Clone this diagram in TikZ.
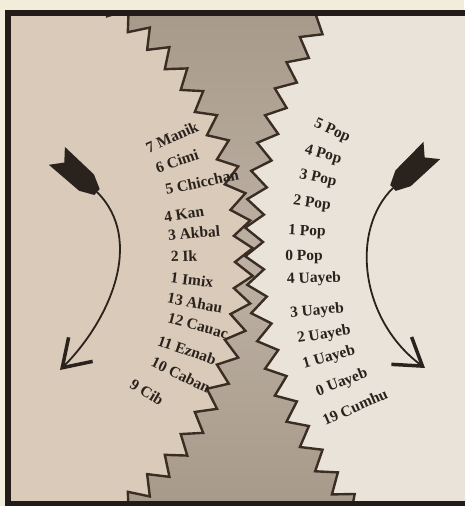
\documentclass[tikz,border=0pt]{standalone}
\usepackage{fontspec}
\setmainfont{Liberation Serif}
\usetikzlibrary{arrows.meta}
\definecolor{outerc}{HTML}{F1EDDA}
\definecolor{framec}{HTML}{221C18}
\definecolor{leftc}{HTML}{D9CAB9}
\definecolor{rightc}{HTML}{EAE3DA}
\definecolor{bandc}{HTML}{A79A8A}
\definecolor{bandlc}{HTML}{BDB1A4}
\definecolor{edgec}{HTML}{3A2D24}
\definecolor{inkc}{HTML}{2A221D}
\tikzset{
  lbl/.style={font=\fontsize{15.5}{15.5}\selectfont\bfseries,text=inkc,inner sep=0pt},
  gear/.style={draw=edgec,line width=2.4pt,line join=miter},
  shaft/.style={draw=inkc,line width=1.8pt,-{Straight Barb[length=26pt,width=34pt,line width=3.5pt]}},
  feather/.style={fill=inkc}
}
\begin{document}
\begin{tikzpicture}[x=1pt,y=-1pt]
\useasboundingbox (0,0) rectangle (464,506);
\fill[outerc] (0,0) rectangle (464,506);
% the two meshing wheels
\begin{scope}
\clip (8,13) rectangle (470,504);
\shade[top color=bandc,bottom color=bandc,middle color=bandlc] (8,13) rectangle (470,504);
\path[gear,fill=leftc] (-30,-40) -- ([shift={(-65,262)}]-60:300)
  \foreach \k in {0,...,23} { -- ([shift={(-65,262)}]{-57.5+5*\k}:318) -- ([shift={(-65,262)}]{-55+5*\k}:300) }
  -- (-30,560) -- cycle;
\path[gear,fill=rightc] (500,600) -- ([shift={(655,242)}]136:392)
  \foreach \k in {0,...,20} { -- ([shift={(655,242)}]{138+4*\k}:410) -- ([shift={(655,242)}]{140+4*\k}:392) }
  -- (500,-40) -- cycle;
\end{scope}
\draw[framec,line width=6pt] (8,13) rectangle (470,504);
% arrows
\coordinate (ltail) at (97,192);
\coordinate (lhead) at (60,370);
\coordinate (rtail) at (393,188);
\coordinate (rhead) at (425,368);
\draw[shaft] (ltail) .. controls (145,240) and (110,320) .. (lhead);
\draw[shaft] (rtail) .. controls (350,230) and (360,320) .. (rhead);
\fill[feather,shift={(ltail)},rotate=138] (0,-4) -- (14,-11) -- (54,-12) -- (44,0) -- (54,12) -- (14,11) -- (0,4) -- cycle;
\fill[feather,shift={(rtail)},rotate=44] (0,-4) -- (14,-11) -- (54,-12) -- (44,0) -- (54,12) -- (14,11) -- (0,4) -- cycle;
% day names
\foreach \t/\x/\y/\r [count=\i] in {7 Manik/172/137/24,6 Cimi/177/161/19,5 Chicchan/202/182/12,4 Kan/184/214/9,
  3 Akbal/194/233/5,2 Ik/184/256/2,1 Imix/192/280/-7,13 Ahau/195/303/-11,12 Cauac/198/326/-15,
  11 Eznab/187/350/-19,10 Caban/181/375/-26,9 Cib/147/392/-31}
  \node[lbl,rotate=\r] (d\i) at (\x,\y) {\t};
% month days
\foreach \t/\x/\y/\r [count=\i] in {5 Pop/332/131/-24,4 Pop/323/155/-16,3 Pop/318/179/-12,2 Pop/312/204/-8,
  1 Pop/307/232/-3,0 Pop/304/257/0,4 Uayeb/314/279/2,3 Uayeb/317/311/5,2 Uayeb/324/335/9,
  1 Uayeb/329/358/16,0 Uayeb/342/383/21,19 Cumhu/355/407/24}
  \node[lbl,rotate=\r] (m\i) at (\x,\y) {\t};
\end{tikzpicture}
\end{document}
